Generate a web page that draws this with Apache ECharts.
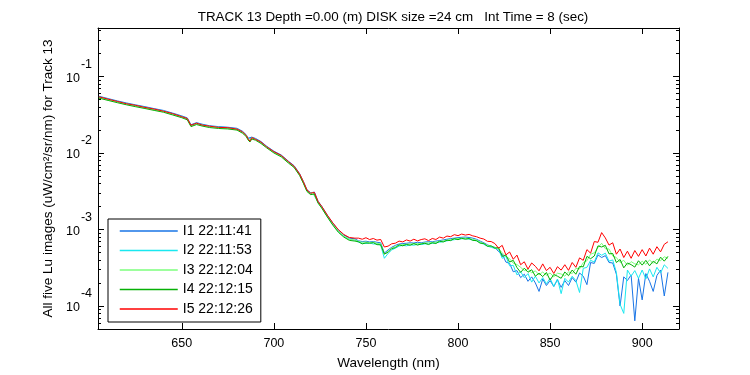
<!DOCTYPE html>
<html>
<head>
<meta charset="utf-8">
<script src="https://cdn.jsdelivr.net/npm/echarts@6/dist/echarts.min.js"></script>
<style>
html, body { margin: 0; padding: 0; background: #fff; }
#chart { width: 750px; height: 375px; }
</style>
</head>
<body>
<div id="chart"></div>
<script>
// wavelengths (nm) shared by the five Lu scans
var wavelength = [605, 610, 615, 620, 625, 630, 635, 640, 645, 650, 653, 654, 655, 656, 658, 661, 665, 670, 675, 680,
    683, 685, 686, 687, 688, 690, 693, 696, 700, 704, 708, 711, 714, 716, 718, 720, 721, 722, 724, 726,
    729, 732, 735, 738, 741, 744,
    746, 748, 750, 752, 754, 756, 758, 760, 762, 764, 766, 768, 770, 772, 774, 776, 778, 780, 782, 784,
    786, 788, 790, 792, 794, 796, 798, 800, 802, 804, 806, 808, 810, 812, 814, 816, 818, 820,
    822, 824, 826, 828, 830, 832, 834, 836, 838, 840, 842, 844, 846, 848, 850, 852, 854, 856, 858, 860,
    862, 864, 866, 868, 870, 872, 874, 876, 878, 880, 882, 884, 886, 888, 890, 892, 894, 896, 898, 900,
    902, 904, 906, 908, 910, 912, 914];

var lu1 = [0.0551, 0.0514, 0.0479, 0.0450, 0.0425, 0.0403, 0.0380, 0.0360, 0.0332, 0.0305, 0.0287, 0.0277, 0.0234, 0.0225, 0.0249, 0.0238, 0.0227, 0.0221, 0.0217, 0.0210,
    0.0192, 0.0173, 0.0156, 0.0147, 0.0161, 0.0155, 0.0141, 0.0123, 0.01056, 0.00941, 0.00777, 0.00681, 0.00536, 0.00425, 0.00330, 0.00301, 0.00319, 0.00308, 0.00234, 0.00201,
    0.00154, 0.00121, 9.85e-4, 8.45e-4, 7.70e-4, 7.55e-4,
    7.10e-4, 6.95e-4, 7.02e-4, 6.88e-4, 6.95e-4, 6.80e-4, 6.70e-4, 4.90e-4, 5.40e-4, 5.85e-4, 6.20e-4, 6.45e-4, 6.55e-4, 6.60e-4, 6.70e-4, 6.65e-4, 6.80e-4, 6.70e-4, 6.85e-4, 6.92e-4,
    6.90e-4, 7.05e-4, 7.15e-4, 7.30e-4, 7.45e-4, 7.60e-4, 7.70e-4, 7.82e-4, 7.90e-4, 7.95e-4, 7.85e-4, 7.70e-4, 7.45e-4, 7.05e-4, 6.70e-4, 6.30e-4, 6.00e-4, 5.85e-4,
    5.15e-4, 4.75e-4, 3.75e-4, 3.60e-4, 2.80e-4, 2.90e-4, 2.35e-4, 2.60e-4, 2.10e-4, 2.40e-4, 2.00e-4, 1.55e-4, 2.25e-4, 1.85e-4, 2.15e-4, 1.80e-4, 2.20e-4, 1.75e-4, 2.15e-4, 1.85e-4,
    2.35e-4, 2.05e-4, 2.70e-4, 2.45e-4, 1.90e-4, 3.70e-4, 3.60e-4, 4.65e-4, 4.30e-4, 4.55e-4, 3.70e-4, 3.65e-4, 2.60e-4, 1.00e-4, 2.40e-4, 2.15e-4, 2.55e-4, 0.64e-4, 2.30e-4, 1.20e-4,
    2.65e-4, 2.10e-4, 1.55e-4, 2.50e-4, 2.95e-4, 1.35e-4, 2.75e-4];

var lu2 = [0.0540, 0.0506, 0.0469, 0.0442, 0.0416, 0.0396, 0.0372, 0.0354, 0.0324, 0.0300, 0.0280, 0.0273, 0.0228, 0.0222, 0.0243, 0.0234, 0.0222, 0.0218, 0.0212, 0.0207,
    0.0187, 0.0171, 0.0152, 0.0145, 0.0157, 0.0153, 0.0137, 0.0122, 0.0103, 0.00920, 0.00755, 0.00662, 0.00518, 0.00410, 0.00318, 0.00290, 0.00308, 0.00297, 0.00224, 0.00193,
    0.00147, 0.00116, 9.40e-4, 8.10e-4, 7.40e-4, 7.25e-4,
    6.80e-4, 6.62e-4, 6.55e-4, 6.70e-4, 6.45e-4, 6.50e-4, 6.25e-4, 4.20e-4, 4.85e-4, 5.40e-4, 5.70e-4, 6.05e-4, 6.20e-4, 6.10e-4, 6.30e-4, 6.22e-4, 6.40e-4, 6.35e-4, 6.48e-4, 6.50e-4,
    6.58e-4, 6.70e-4, 6.80e-4, 6.95e-4, 7.10e-4, 7.25e-4, 7.35e-4, 7.50e-4, 7.55e-4, 7.62e-4, 7.48e-4, 7.30e-4, 7.10e-4, 6.75e-4, 6.40e-4, 6.05e-4, 5.85e-4, 5.65e-4,
    5.55e-4, 4.20e-4, 4.45e-4, 3.35e-4, 3.40e-4, 2.55e-4, 2.80e-4, 2.35e-4, 2.65e-4, 2.05e-4, 2.45e-4, 2.00e-4, 2.35e-4, 1.95e-4, 2.30e-4, 1.80e-4, 2.25e-4, 1.45e-4, 2.30e-4, 2.05e-4,
    2.45e-4, 2.15e-4, 1.50e-4, 3.10e-4, 3.20e-4, 3.95e-4, 3.75e-4, 4.95e-4, 4.60e-4, 4.90e-4, 3.85e-4, 4.00e-4, 2.75e-4, 1.05e-4, 0.80e-4, 2.95e-4, 2.45e-4, 2.90e-4, 2.30e-4, 2.95e-4,
    2.25e-4, 3.05e-4, 2.40e-4, 3.20e-4, 2.70e-4, 3.45e-4, 3.10e-4];

var lu3 = [0.0532, 0.0496, 0.0463, 0.0435, 0.0411, 0.0389, 0.0367, 0.0348, 0.0320, 0.0295, 0.0277, 0.0268, 0.0226, 0.0218, 0.0240, 0.0230, 0.0220, 0.0214, 0.0210, 0.0203,
    0.0185, 0.0168, 0.0151, 0.0142, 0.0156, 0.0150, 0.0136, 0.0119, 0.0102, 0.00909, 0.00750, 0.00658, 0.00517, 0.00411, 0.00319, 0.00290, 0.00308, 0.00297, 0.00225, 0.00194,
    0.00149, 0.00117, 9.50e-4, 8.18e-4, 7.47e-4, 7.30e-4,
    6.95e-4, 6.80e-4, 6.85e-4, 6.75e-4, 6.82e-4, 6.60e-4, 6.50e-4, 4.70e-4, 5.20e-4, 5.70e-4, 6.00e-4, 6.25e-4, 6.35e-4, 6.40e-4, 6.48e-4, 6.45e-4, 6.55e-4, 6.58e-4, 6.66e-4, 6.70e-4,
    6.78e-4, 6.85e-4, 6.98e-4, 7.10e-4, 7.25e-4, 7.40e-4, 7.52e-4, 7.60e-4, 7.70e-4, 7.72e-4, 7.60e-4, 7.45e-4, 7.25e-4, 6.90e-4, 6.55e-4, 6.20e-4, 6.05e-4, 5.80e-4,
    5.60e-4, 4.95e-4, 4.40e-4, 4.15e-4, 3.62e-4, 3.48e-4, 3.20e-4, 2.90e-4, 3.02e-4, 2.70e-4, 2.88e-4, 2.55e-4, 2.78e-4, 2.52e-4, 2.70e-4, 2.40e-4, 2.68e-4, 2.62e-4, 2.45e-4, 2.80e-4,
    2.65e-4, 3.10e-4, 3.05e-4, 3.70e-4, 3.90e-4, 4.75e-4, 4.95e-4, 5.80e-4, 6.60e-4, 5.60e-4, 5.55e-4, 4.50e-4, 4.30e-4, 3.70e-4, 3.95e-4, 3.40e-4, 3.80e-4, 3.55e-4, 3.45e-4, 3.85e-4,
    3.50e-4, 4.00e-4, 3.60e-4, 4.10e-4, 3.90e-4, 4.40e-4, 4.20e-4];

var lu4 = [0.0521, 0.0486, 0.0454, 0.0426, 0.0402, 0.0381, 0.0360, 0.0341, 0.0314, 0.0289, 0.0271, 0.0262, 0.0221, 0.0213, 0.0235, 0.0225, 0.0215, 0.0209, 0.0206, 0.0199,
    0.0181, 0.0164, 0.0148, 0.0139, 0.0152, 0.0147, 0.0133, 0.0117, 0.0100, 0.00890, 0.00735, 0.00645, 0.00507, 0.00402, 0.00313, 0.00285, 0.00302, 0.00291, 0.00221, 0.00190,
    0.00146, 0.00114, 9.20e-4, 7.95e-4, 7.20e-4, 7.05e-4,
    6.90e-4, 6.48e-4, 6.68e-4, 6.60e-4, 6.72e-4, 6.33e-4, 6.31e-4, 4.78e-4, 5.02e-4, 5.62e-4, 5.78e-4, 6.29e-4, 6.11e-4, 6.37e-4, 6.22e-4, 6.55e-4, 6.25e-4, 6.46e-4, 6.60e-4, 6.35e-4,
    6.70e-4, 6.55e-4, 7.02e-4, 6.86e-4, 7.23e-4, 7.15e-4, 7.60e-4, 7.35e-4, 7.68e-4, 7.45e-4, 7.62e-4, 7.20e-4, 7.15e-4, 6.62e-4, 6.55e-4, 6.02e-4, 6.10e-4, 5.70e-4,
    5.80e-4, 4.45e-4, 4.62e-4, 3.75e-4, 3.95e-4, 3.18e-4, 2.75e-4, 3.12e-4, 2.76e-4, 2.98e-4, 2.45e-4, 2.68e-4, 2.42e-4, 2.74e-4, 2.18e-4, 2.58e-4, 2.45e-4, 2.30e-4, 2.78e-4, 2.49e-4,
    2.95e-4, 2.60e-4, 3.28e-4, 3.25e-4, 4.45e-4, 4.15e-4, 4.50e-4, 6.10e-4, 5.90e-4, 6.20e-4, 4.80e-4, 4.85e-4, 3.70e-4, 4.05e-4, 3.15e-4, 3.65e-4, 3.47e-4, 3.22e-4, 3.90e-4, 3.42e-4,
    3.95e-4, 3.35e-4, 3.85e-4, 3.55e-4, 4.35e-4, 3.85e-4, 4.45e-4];

var lu5 = [0.0542, 0.0505, 0.0472, 0.0440, 0.0419, 0.0394, 0.0375, 0.0352, 0.0327, 0.0298, 0.0282, 0.0271, 0.0230, 0.0220, 0.0245, 0.0232, 0.0224, 0.0216, 0.0214, 0.0205,
    0.0189, 0.0169, 0.0154, 0.0143, 0.0159, 0.0151, 0.0139, 0.0121, 0.0104, 0.00928, 0.00768, 0.00670, 0.00530, 0.00422, 0.00327, 0.00298, 0.00316, 0.00305, 0.00232, 0.00200,
    0.00154, 0.00122, 9.95e-4, 8.60e-4, 7.85e-4, 7.70e-4,
    7.70e-4, 7.45e-4, 7.80e-4, 7.38e-4, 7.62e-4, 7.25e-4, 7.40e-4, 5.90e-4, 6.05e-4, 6.50e-4, 6.62e-4, 7.05e-4, 6.88e-4, 7.30e-4, 7.05e-4, 7.45e-4, 7.10e-4, 7.38e-4, 7.55e-4, 7.15e-4,
    7.62e-4, 7.40e-4, 7.95e-4, 7.70e-4, 8.20e-4, 8.05e-4, 8.55e-4, 8.30e-4, 8.70e-4, 8.45e-4, 8.62e-4, 8.25e-4, 8.05e-4, 7.70e-4, 7.50e-4, 7.00e-4, 6.95e-4, 6.55e-4,
    5.70e-4, 6.20e-4, 4.65e-4, 5.08e-4, 4.08e-4, 4.62e-4, 3.46e-4, 3.78e-4, 3.03e-4, 3.65e-4, 3.30e-4, 2.88e-4, 3.55e-4, 2.90e-4, 3.20e-4, 2.66e-4, 3.26e-4, 2.94e-4, 3.46e-4, 2.92e-4,
    3.70e-4, 3.20e-4, 4.25e-4, 3.95e-4, 5.45e-4, 4.90e-4, 6.95e-4, 6.80e-4, 9.10e-4, 7.75e-4, 6.25e-4, 6.70e-4, 4.75e-4, 5.55e-4, 4.30e-4, 5.20e-4, 4.20e-4, 5.30e-4, 4.45e-4, 5.45e-4,
    4.50e-4, 5.70e-4, 4.75e-4, 5.95e-4, 5.10e-4, 6.40e-4, 6.90e-4];

var scanNames = ['I1 22:11:41', 'I2 22:11:53', 'I3 22:12:04', 'I4 22:12:15', 'I5 22:12:26'];
var scanColors = ['#1874e6', '#19e8f0', '#7cff7c', '#06b006', '#ff0000'];
var scans = [lu1, lu2, lu3, lu4, lu5];

var FONT = '"Liberation Sans", Arial, Helvetica, sans-serif';

var myChart = echarts.init(document.getElementById('chart'), null, {renderer: 'canvas'});

var seriesList = scans.map(function (vals, k) {
    return {
        name: scanNames[k],
        type: 'line',
        data: wavelength.map(function (w, i) { return [w, vals[i]]; }),
        symbol: 'none',
        showSymbol: false,
        lineStyle: {color: scanColors[k], width: 1},
        itemStyle: {color: scanColors[k]},
        emphasis: {disabled: true},
        z: 2 + k
    };
});

function expLabel(v) {
    var e = Math.log10(v);
    var r = Math.round(e);
    if (Math.abs(e - r) > 1e-6) return '';
    return '{b|10}{e|' + r + '}';
}

var tickLine = {color: '#000', width: 1};

var option = {
    animation: false,
    backgroundColor: '#fff',
    title: {
        text: 'TRACK 13 Depth =0.00 (m) DISK size =24 cm   Int Time = 8 (sec)',
        left: 388,
        top: 6,
        textAlign: 'center',
        textStyle: {fontSize: 13.4, fontWeight: 'normal', color: '#000', fontFamily: FONT}
    },
    grid: {left: 98, right: 71, top: 28, bottom: 44, containLabel: false},
    legend: {
        orient: 'vertical',
        left: 108,
        top: 219,
        padding: [5, 8, 6, 11],
        itemWidth: 58,
        itemHeight: 14,
        itemGap: 5.5,
        backgroundColor: '#fff',
        borderColor: '#000',
        borderWidth: 1,
        borderRadius: 0,
        selectedMode: false,
        itemStyle: {opacity: 0},
        lineStyle: {width: 1.5, opacity: 1},
        textStyle: {fontSize: 14, color: '#000', fontFamily: FONT},
        data: scanNames
    },
    xAxis: [{
        type: 'value',
        min: 604.5,
        max: 920,
        position: 'bottom',
        axisLine: {show: true, onZero: false, lineStyle: tickLine},
        axisTick: {show: true, inside: true, length: 6, lineStyle: tickLine},
        splitLine: {show: false},
        axisLabel: {color: '#000', fontSize: 12.5, margin: 8, fontFamily: FONT, showMinLabel: false, showMaxLabel: false},
        name: 'Wavelength (nm)',
        nameLocation: 'middle',
        nameGap: 27,
        nameTextStyle: {color: '#000', fontSize: 13.5, fontFamily: FONT}
    }, {
        type: 'value',
        min: 604.5,
        max: 920,
        position: 'top',
        axisLine: {show: true, onZero: false, lineStyle: tickLine},
        axisTick: {show: true, inside: true, length: 6, lineStyle: tickLine},
        splitLine: {show: false},
        axisLabel: {show: false}
    }],
    yAxis: [{
        type: 'log',
        logBase: 10,
        min: 5e-5,
        max: 0.43,
        position: 'left',
        axisLine: {show: true, onZero: false, lineStyle: tickLine},
        axisTick: {show: true, inside: true, length: 6, lineStyle: tickLine},
        minorTick: {show: true, splitNumber: 9, length: 3, lineStyle: tickLine},
        splitLine: {show: false},
        minorSplitLine: {show: false},
        axisLabel: {
            showMinLabel: false,
            showMaxLabel: false,
            margin: 6,
            color: '#000',
            formatter: expLabel,
            rich: {
                b: {fontSize: 12.5, fontFamily: FONT, color: '#000', verticalAlign: 'bottom', padding: [0, 0, 10, 0]},
                e: {fontSize: 12.5, fontFamily: FONT, color: '#000', verticalAlign: 'top', padding: [0, 0, 24, 1]}
            }
        },
        name: 'All five Lu images (uW/cm\u00b2/sr/nm) for Track 13',
        nameLocation: 'middle',
        nameGap: 42,
        nameTextStyle: {color: '#000', fontSize: 13.5, fontFamily: FONT}
    }, {
        type: 'log',
        logBase: 10,
        min: 5e-5,
        max: 0.43,
        position: 'right',
        axisLine: {show: true, onZero: false, lineStyle: tickLine},
        axisTick: {show: true, inside: true, length: 6, lineStyle: tickLine},
        minorTick: {show: true, splitNumber: 9, length: 3, lineStyle: tickLine},
        splitLine: {show: false},
        minorSplitLine: {show: false},
        axisLabel: {show: false}
    }],
    series: seriesList
};

myChart.setOption(option);
</script>
</body>
</html>
